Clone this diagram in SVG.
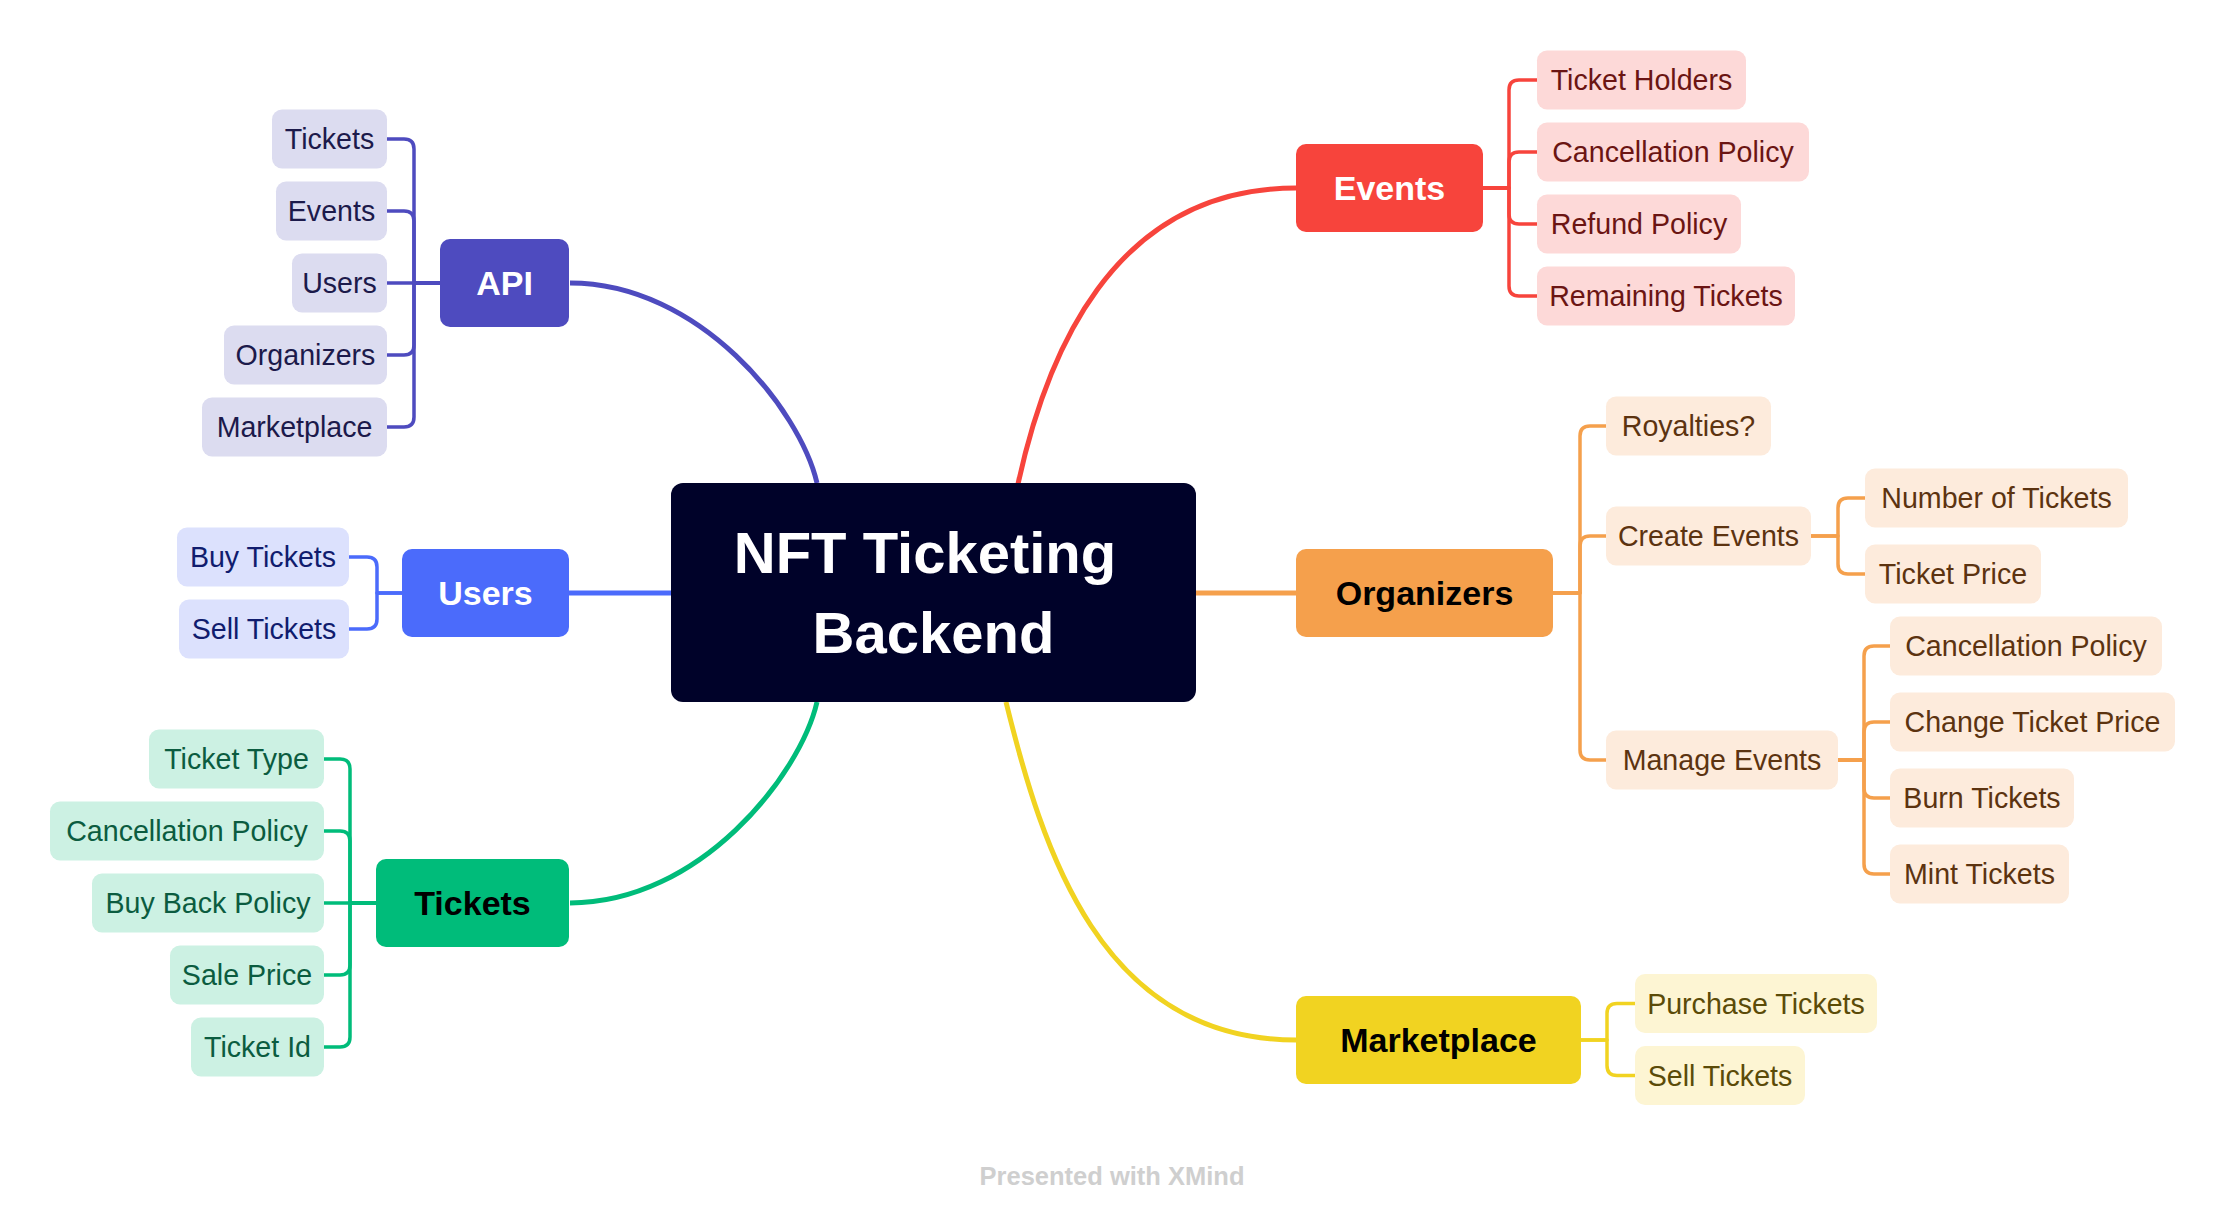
<svg xmlns="http://www.w3.org/2000/svg" width="2226" height="1226" viewBox="0 0 2226 1226">
<style>
text{font-family:"Liberation Sans",Arial,sans-serif;text-anchor:middle}
.leaf{font-size:28.6px}
.topic{font-size:34px;font-weight:bold}
.main{fill:none;stroke-width:5;stroke-linecap:butt}
.el{fill:none;stroke-width:3.5;stroke-linejoin:round}
.api{stroke:#4E4BBF}.usr{stroke:#4B6BFB}.tik{stroke:#00BC7A}.evt{stroke:#F7443C}.org{stroke:#F5A04C}.mkt{stroke:#F1D321}
.lapi rect{fill:#DCDCF0}.lapi text{fill:#1C1A4B}
.lusr rect{fill:#DCE1FD}.lusr text{fill:#101C6E}
.ltik rect{fill:#CCF1E3}.ltik text{fill:#0B5C40}
.levt rect{fill:#FDD9D8}.levt text{fill:#6B1513}
.lorg rect{fill:#FDEBDC}.lorg text{fill:#5C3310}
.lmkt rect{fill:#FDF5D3}.lmkt text{fill:#5B4B08}
</style>
<rect width="2226" height="1226" fill="#FFFFFF"/>
<g id="connectors">
<path class="main api" d="M817 483 C800 410 700 283 570 283"/>
<path class="main evt" d="M1018 484 C1045 360 1110 188 1296 188"/>
<path class="main usr" d="M569 593 H671"/>
<path class="main org" d="M1196 593 H1296"/>
<path class="main tik" d="M817 702 C800 775 700 903 570 903"/>
<path class="main mkt" d="M1006 702 C1042 848 1100 1040 1296 1040"/>
<path class="el api" d="M440 283 H414 V149 Q414 139 404 139 H387"/>
<path class="el api" d="M440 283 H414 V221 Q414 211 404 211 H387"/>
<path class="el api" d="M440 283 H387"/>
<path class="el api" d="M440 283 H414 V345 Q414 355 404 355 H387"/>
<path class="el api" d="M440 283 H414 V417 Q414 427 404 427 H387"/>
<path class="el usr" d="M402 593 H377 V567 Q377 557 367 557 H349"/>
<path class="el usr" d="M402 593 H377 V619 Q377 629 367 629 H349"/>
<path class="el tik" d="M376 903 H350 V769 Q350 759 340 759 H324"/>
<path class="el tik" d="M376 903 H350 V841 Q350 831 340 831 H324"/>
<path class="el tik" d="M376 903 H324"/>
<path class="el tik" d="M376 903 H350 V965 Q350 975 340 975 H324"/>
<path class="el tik" d="M376 903 H350 V1037 Q350 1047 340 1047 H324"/>
<path class="el evt" d="M1483 188 H1509 V90 Q1509 80 1519 80 H1537"/>
<path class="el evt" d="M1483 188 H1509 V162 Q1509 152 1519 152 H1537"/>
<path class="el evt" d="M1483 188 H1509 V214 Q1509 224 1519 224 H1537"/>
<path class="el evt" d="M1483 188 H1509 V286 Q1509 296 1519 296 H1537"/>
<path class="el org" d="M1553 593 H1580 V436 Q1580 426 1590 426 H1606"/>
<path class="el org" d="M1553 593 H1580 V546 Q1580 536 1590 536 H1606"/>
<path class="el org" d="M1553 593 H1580 V750 Q1580 760 1590 760 H1606"/>
<path class="el org" d="M1811 536 H1838 V508 Q1838 498 1848 498 H1865"/>
<path class="el org" d="M1811 536 H1838 V564 Q1838 574 1848 574 H1865"/>
<path class="el org" d="M1838 760 H1864 V656 Q1864 646 1874 646 H1890"/>
<path class="el org" d="M1838 760 H1864 V732 Q1864 722 1874 722 H1890"/>
<path class="el org" d="M1838 760 H1864 V788 Q1864 798 1874 798 H1890"/>
<path class="el org" d="M1838 760 H1864 V864 Q1864 874 1874 874 H1890"/>
<path class="el mkt" d="M1581 1040 H1607 V1013.5 Q1607 1003.5 1617 1003.5 H1635"/>
<path class="el mkt" d="M1581 1040 H1607 V1065.5 Q1607 1075.5 1617 1075.5 H1635"/>
</g>
<g id="central">
<rect x="671" y="483" width="525" height="219" rx="12" fill="#000229"/>
<text x="925" y="573" font-size="58" font-weight="bold" fill="#FFFFFF">NFT Ticketing</text>
<text x="933.5" y="653" font-size="58" font-weight="bold" fill="#FFFFFF">Backend</text>
</g>
<g id="topic-api"><rect x="440" y="239" width="129" height="88" rx="10" fill="#4E4BBF"/><text class="topic" x="504.5" y="295" fill="#FFFFFF">API</text></g>
<g id="topic-users"><rect x="402" y="549" width="167" height="88" rx="10" fill="#4B6BFB"/><text class="topic" x="485.5" y="605" fill="#FFFFFF">Users</text></g>
<g id="topic-tickets"><rect x="376" y="859" width="193" height="88" rx="10" fill="#00BC7A"/><text class="topic" x="472.5" y="915" fill="#000000">Tickets</text></g>
<g id="topic-events"><rect x="1296" y="144" width="187" height="88" rx="10" fill="#F7443C"/><text class="topic" x="1389.5" y="200" fill="#FFFFFF">Events</text></g>
<g id="topic-organizers"><rect x="1296" y="549" width="257" height="88" rx="10" fill="#F5A04C"/><text class="topic" x="1424.5" y="605" fill="#000000">Organizers</text></g>
<g id="topic-marketplace"><rect x="1296" y="996" width="285" height="88" rx="10" fill="#F1D321"/><text class="topic" x="1438.5" y="1052" fill="#000000">Marketplace</text></g>

<g id="api-tickets" class="lapi"><rect x="272" y="109.5" width="115" height="59" rx="10"/><text class="leaf" x="329.5" y="149">Tickets</text></g>
<g id="api-events" class="lapi"><rect x="276" y="181.5" width="111" height="59" rx="10"/><text class="leaf" x="331.5" y="221">Events</text></g>
<g id="api-users" class="lapi"><rect x="292" y="253.5" width="95" height="59" rx="10"/><text class="leaf" x="339.5" y="293">Users</text></g>
<g id="api-organizers" class="lapi"><rect x="224" y="325.5" width="163" height="59" rx="10"/><text class="leaf" x="305.5" y="365">Organizers</text></g>
<g id="api-marketplace" class="lapi"><rect x="202" y="397.5" width="185" height="59" rx="10"/><text class="leaf" x="294.5" y="437">Marketplace</text></g>

<g id="users-buy" class="lusr"><rect x="177" y="527.5" width="172" height="59" rx="10"/><text class="leaf" x="263" y="567">Buy Tickets</text></g>
<g id="users-sell" class="lusr"><rect x="179" y="599.5" width="170" height="59" rx="10"/><text class="leaf" x="264" y="639">Sell Tickets</text></g>

<g id="tickets-type" class="ltik"><rect x="149" y="729.5" width="175" height="59" rx="10"/><text class="leaf" x="236.5" y="769">Ticket Type</text></g>
<g id="tickets-cancel" class="ltik"><rect x="50" y="801.5" width="274" height="59" rx="10"/><text class="leaf" x="187" y="841">Cancellation Policy</text></g>
<g id="tickets-buyback" class="ltik"><rect x="92" y="873.5" width="232" height="59" rx="10"/><text class="leaf" x="208" y="913">Buy Back Policy</text></g>
<g id="tickets-sale" class="ltik"><rect x="170" y="945.5" width="154" height="59" rx="10"/><text class="leaf" x="247" y="985">Sale Price</text></g>
<g id="tickets-id" class="ltik"><rect x="191" y="1017.5" width="133" height="59" rx="10"/><text class="leaf" x="257.5" y="1057">Ticket Id</text></g>

<g id="events-holders" class="levt"><rect x="1537" y="50.5" width="209" height="59" rx="10"/><text class="leaf" x="1641.5" y="90">Ticket Holders</text></g>
<g id="events-cancel" class="levt"><rect x="1537" y="122.5" width="272" height="59" rx="10"/><text class="leaf" x="1673" y="162">Cancellation Policy</text></g>
<g id="events-refund" class="levt"><rect x="1537" y="194.5" width="204" height="59" rx="10"/><text class="leaf" x="1639" y="234">Refund Policy</text></g>
<g id="events-remaining" class="levt"><rect x="1537" y="266.5" width="258" height="59" rx="10"/><text class="leaf" x="1666" y="306">Remaining Tickets</text></g>

<g id="org-royalties" class="lorg"><rect x="1606" y="396.5" width="165" height="59" rx="10"/><text class="leaf" x="1688.5" y="436">Royalties?</text></g>
<g id="org-create" class="lorg"><rect x="1606" y="506.5" width="205" height="59" rx="10"/><text class="leaf" x="1708.5" y="546">Create Events</text></g>
<g id="org-manage" class="lorg"><rect x="1606" y="730.5" width="232" height="59" rx="10"/><text class="leaf" x="1722" y="770">Manage Events</text></g>
<g id="create-number" class="lorg"><rect x="1865" y="468.5" width="263" height="59" rx="10"/><text class="leaf" x="1996.5" y="508">Number of Tickets</text></g>
<g id="create-price" class="lorg"><rect x="1865" y="544.5" width="176" height="59" rx="10"/><text class="leaf" x="1953" y="584">Ticket Price</text></g>
<g id="manage-cancel" class="lorg"><rect x="1890" y="616.5" width="272" height="59" rx="10"/><text class="leaf" x="2026" y="656">Cancellation Policy</text></g>
<g id="manage-change" class="lorg"><rect x="1890" y="692.5" width="285" height="59" rx="10"/><text class="leaf" x="2032.5" y="732">Change Ticket Price</text></g>
<g id="manage-burn" class="lorg"><rect x="1890" y="768.5" width="184" height="59" rx="10"/><text class="leaf" x="1982" y="808">Burn Tickets</text></g>
<g id="manage-mint" class="lorg"><rect x="1890" y="844.5" width="179" height="59" rx="10"/><text class="leaf" x="1979.5" y="884">Mint Tickets</text></g>

<g id="mkt-purchase" class="lmkt"><rect x="1635" y="974" width="242" height="59" rx="10"/><text class="leaf" x="1756" y="1013.5">Purchase Tickets</text></g>
<g id="mkt-sell" class="lmkt"><rect x="1635" y="1046" width="170" height="59" rx="10"/><text class="leaf" x="1720" y="1085.5">Sell Tickets</text></g>

<text x="1112" y="1185" font-size="25.5" font-weight="bold" fill="#CFCFCF">Presented with XMind</text>
</svg>
